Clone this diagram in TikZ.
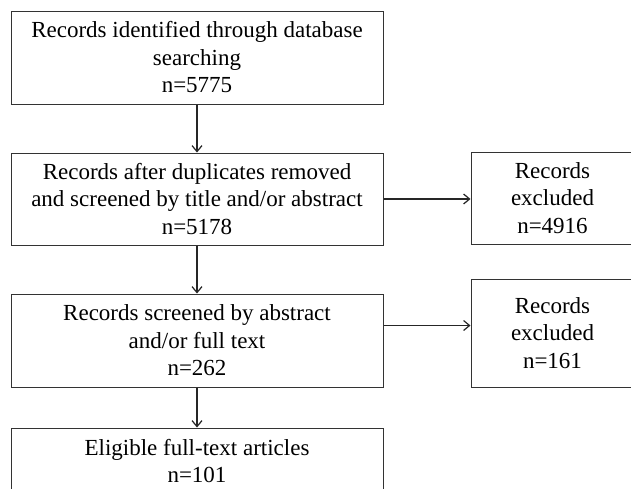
\documentclass[tikz,border=0pt]{standalone}
\usepackage{fontspec}
\setmainfont{Liberation Serif}
\usetikzlibrary{arrows.meta}
\begin{document}
\begin{tikzpicture}[x=1pt,y=1pt,
  box/.style={draw=black!80,line width=1pt,align=center,inner sep=0pt,
    font=\fontsize{23}{27.5}\selectfont},
  arr/.style={-{Straight Barb[length=6pt,width=10pt,line width=1.2pt]},line width=1.3pt,black!85}]
%\draw[style=help lines,step=20] (0,0) grid (631,-488);
\clip (0,0) rectangle (631,-488);

\node[box,minimum width=372,minimum height=93] (ident) at (197,-57.5)
  {Records identified through database\\searching\\n=5775};
\node[box,minimum width=372,minimum height=92] (dedup) at (197,-199)
  {Records after duplicates removed\\and screened by title and/or abstract\\n=5178};
\node[box,minimum width=372,minimum height=93] (screen) at (197,-340.5)
  {Records screened by abstract\\and/or full text\\n=262};
\node[box,minimum width=372,minimum height=66] (elig) at (197,-461)
  {Eligible full-text articles\\n=101};

\node[box,minimum width=163,minimum height=92] (excl1) at (552.5,-198)
  {Records\\excluded\\n=4916};
\node[box,minimum width=163,minimum height=108] (excl2) at (552.5,-333)
  {Records\\excluded\\n=161};

\draw[arr] (ident.south) -- (dedup.north);
\draw[arr] (dedup.south) -- (screen.north);
\draw[arr] (screen.south) -- (elig.north);
\draw[arr] (dedup.east) -- (dedup.east -| excl1.west);
\draw[arr] ([yshift=15pt]screen.east) -- ([yshift=15pt]screen.east -| excl2.west);

\end{tikzpicture}
\end{document}
